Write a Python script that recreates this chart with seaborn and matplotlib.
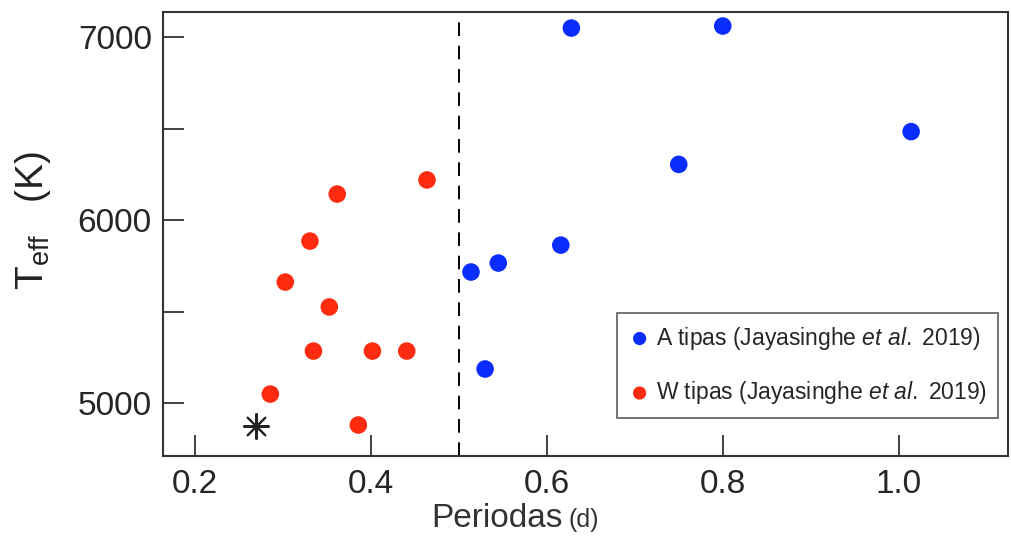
import matplotlib
matplotlib.use("Agg")
import matplotlib.pyplot as plt
import seaborn as sns
import pandas as pd

# A tipo sistemos (mėlyni taškai)
a_periodas = [0.628, 0.800, 1.014, 0.750, 0.616, 0.514, 0.545, 0.530]
a_teff = [7049, 7060, 6483, 6304, 5863, 5716, 5765, 5186]

# W tipo sistemos (raudoni taškai)
w_periodas = [0.464, 0.362, 0.331, 0.303, 0.353, 0.335, 0.402, 0.441, 0.286, 0.386]
w_teff = [6219, 6142, 5885, 5661, 5525, 5284, 5284, 5284, 5049, 4880]

# tiriama sistema (žvaigždutė)
obj_periodas = [0.270]
obj_teff = [4874]

riba = 0.5

a_df = pd.DataFrame({"P": a_periodas, "T": a_teff})
w_df = pd.DataFrame({"P": w_periodas, "T": w_teff})
obj_df = pd.DataFrame({"P": obj_periodas, "T": obj_teff})

sns.set_style("ticks")
plt.rcParams["font.family"] = ["Liberation Sans", "DejaVu Sans"]
plt.rcParams["mathtext.fontset"] = "custom"
plt.rcParams["mathtext.rm"] = "Liberation Sans"
plt.rcParams["mathtext.it"] = "Liberation Sans:italic"

fig = plt.figure(figsize=(10.12, 5.43), dpi=100)
ax = fig.add_axes([0.161, 0.160, 0.835, 0.818])

ax.axvline(riba, color="black", lw=1.4, dashes=(7, 5), zorder=1)

sns.scatterplot(data=a_df, x="P", y="T", ax=ax, color="#0a2dff", s=160,
                edgecolor="none", label=r"A tipas (Jayasinghe $\it{et\ al.}$ 2019)", zorder=3)
sns.scatterplot(data=w_df, x="P", y="T", ax=ax, color="#ff2b10", s=160,
                edgecolor="none", label=r"W tipas (Jayasinghe $\it{et\ al.}$ 2019)", zorder=3)
sns.scatterplot(data=obj_df, x="P", y="T", ax=ax, color="#222222", s=320,
                marker=(8, 2, 0), linewidth=1.5, zorder=4, legend=False)

ax.set_xlim(0.164, 1.124)
ax.set_ylim(4710, 7137)
ax.set_xticks([0.2, 0.4, 0.6, 0.8, 1.0])
ax.set_xticklabels(["0.2", "0.4", "0.6", "0.8", "1.0"])
ax.set_yticks([5000, 5500, 6000, 6500, 7000])
ax.set_yticklabels(["5000", "", "6000", "", "7000"])
ax.tick_params(direction="in", length=15, width=1.2, labelsize=24, color="#222222")
ax.tick_params(axis="x", pad=9)
ax.tick_params(axis="y", pad=8)

for sp in ax.spines.values():
    sp.set_visible(True)
    sp.set_linewidth(1.5)
    sp.set_color("#333333")

ax.set_xlabel("Periodas", fontsize=24, color="#333333")
ax.xaxis.set_label_coords(0.395, -0.105)
ax.annotate("(d)", xy=(1, 0), xycoords=ax.xaxis.label, xytext=(4, 1),
            textcoords="offset points", fontsize=18, color="#333333", va="bottom")

ax.set_ylabel(r"$\mathregular{T_{eff}}$   (K)", fontsize=28, color="#222222")
ax.yaxis.set_label_coords(-0.13, 0.53)

leg = ax.legend(loc="upper left", bbox_to_anchor=(0.537, 0.322), borderaxespad=0,
                fontsize=16.5, frameon=True, fancybox=False, borderpad=0.5,
                labelspacing=1.2, handletextpad=0.2, handlelength=1.0, markerscale=0.75)
leg.get_frame().set_edgecolor("#333333")
leg.get_frame().set_linewidth(1.2)

fig.savefig("out.png", dpi=100)
